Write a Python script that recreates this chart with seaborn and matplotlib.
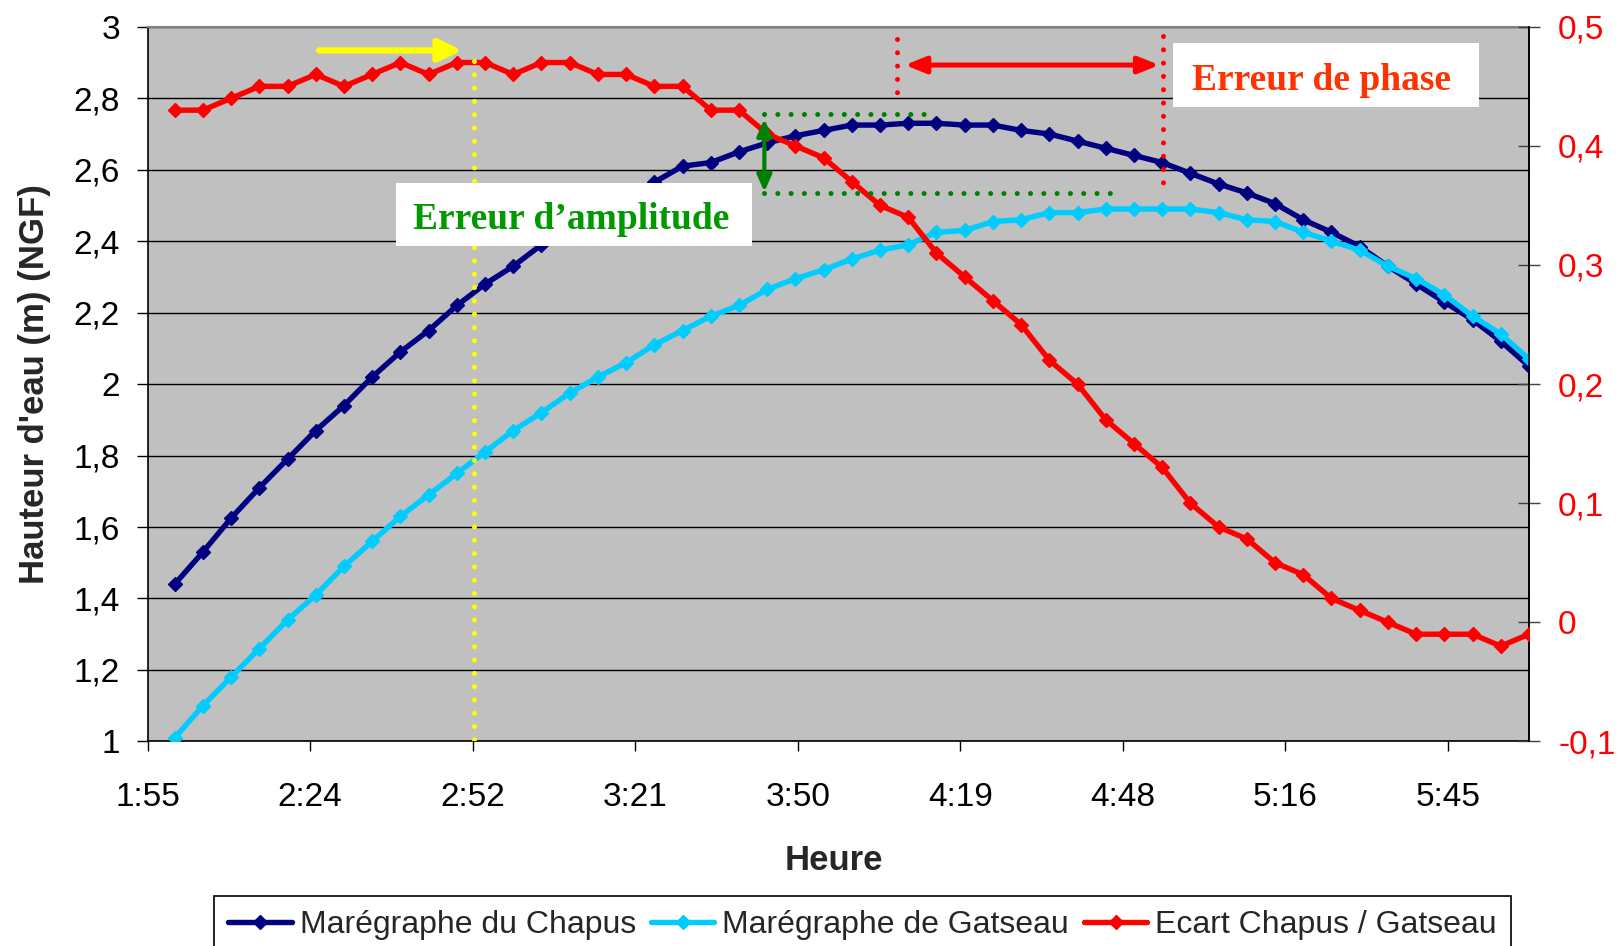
import numpy as np
import pandas as pd
import matplotlib
matplotlib.use("Agg")
import matplotlib.pyplot as plt
import matplotlib.patches as mpatches
from matplotlib.lines import Line2D
import seaborn as sns

# ---------------- data ----------------
times = ["2:00", "2:05", "2:10", "2:15", "2:20", "2:25", "2:30", "2:35", "2:40", "2:45",
         "2:50", "2:55", "3:00", "3:05", "3:10", "3:15", "3:20", "3:25", "3:30", "3:35",
         "3:40", "3:45", "3:50", "3:55", "4:00", "4:05", "4:10", "4:15", "4:20", "4:25",
         "4:30", "4:35", "4:40", "4:45", "4:50", "4:55", "5:00", "5:05", "5:10", "5:15",
         "5:20", "5:25", "5:30", "5:35", "5:40", "5:45", "5:50", "5:55", "6:00"]

chapus = [1.44, 1.53, 1.625, 1.71, 1.79, 1.87, 1.94, 2.02, 2.09, 2.15,
          2.22, 2.28, 2.33, 2.39, 2.44, 2.485, 2.525, 2.565, 2.61, 2.62,
          2.65, 2.675, 2.695, 2.71, 2.725, 2.725, 2.73, 2.73, 2.725, 2.725,
          2.71, 2.70, 2.68, 2.66, 2.64, 2.62, 2.59, 2.56, 2.535, 2.505,
          2.46, 2.425, 2.385, 2.33, 2.28, 2.23, 2.18, 2.12, 2.05]

gatseau = [1.01, 1.10, 1.18, 1.26, 1.34, 1.41, 1.49, 1.56, 1.63, 1.69,
           1.75, 1.81, 1.87, 1.92, 1.975, 2.02, 2.06, 2.11, 2.15, 2.19,
           2.22, 2.265, 2.295, 2.32, 2.35, 2.375, 2.39, 2.425, 2.43, 2.455,
           2.46, 2.48, 2.48, 2.49, 2.49, 2.49, 2.49, 2.48, 2.46, 2.455,
           2.425, 2.40, 2.375, 2.33, 2.295, 2.25, 2.19, 2.14, 2.07]

ecart = [0.43, 0.43, 0.44, 0.45, 0.45, 0.46, 0.45, 0.46, 0.47, 0.46,
         0.47, 0.47, 0.46, 0.47, 0.47, 0.46, 0.46, 0.45, 0.45, 0.43,
         0.43, 0.41, 0.40, 0.39, 0.37, 0.35, 0.34, 0.31, 0.29, 0.27,
         0.25, 0.22, 0.20, 0.17, 0.15, 0.13, 0.10, 0.08, 0.07, 0.05,
         0.04, 0.02, 0.01, 0.00, -0.01, -0.01, -0.01, -0.02, -0.01]

series_labels = ["Marégraphe du Chapus", "Marégraphe de Gatseau", "Ecart Chapus / Gatseau"]
x_ticks = [0.08, 0.10, 0.12, 0.14, 0.16, 0.18, 0.20, 0.22, 0.24]   # fractions of a day (Excel)
y_left_ticks = [1.0, 1.2, 1.4, 1.6, 1.8, 2.0, 2.2, 2.4, 2.6, 2.8, 3.0]
y_right_ticks = [-0.1, 0.0, 0.1, 0.2, 0.3, 0.4, 0.5]

# ---------------- style ----------------
NAVY = "#000080"
CYAN = "#00CCFF"
RED = "#FF0000"
GREEN = "#008000"
TXT_GREEN = "#009900"
TXT_RED = "#FF3300"
YELLOW = "#FFFF00"

sns.set_theme(style="white")
plt.rcParams["font.family"] = ["Liberation Sans", "DejaVu Sans"]


def to_day(s):
    h, m = s.split(":")
    return (int(h) * 60 + int(m)) / 1440.0


def fmt_time(v):
    m = int(v * 1440 + 1e-6)
    return f"{m // 60}:{m % 60:02d}"


def fmt_num(v):
    if abs(v) < 1e-9:
        return "0"
    s = f"{v:.1f}"
    if s.endswith(".0"):
        s = s[:-2]
    return s.replace(".", ",")


df = pd.DataFrame({
    "t": [to_day(s) for s in times],
    "chapus": chapus,
    "gatseau": gatseau,
    "ecart": ecart,
})

W, H = 1619, 946
fig = plt.figure(figsize=(W / 100, H / 100), dpi=100)
ax_l, ax_r, ax_t, ax_b = 147.6, 1529.0, 26.8, 741.4
ax = fig.add_axes([ax_l / W, 1 - ax_b / H, (ax_r - ax_l) / W, (ax_b - ax_t) / H])
ax.set_facecolor("#C0C0C0")

LW = 3.9
MS = 7.5
sns.lineplot(data=df, x="t", y="chapus", ax=ax, color=NAVY, lw=LW, marker="D",
             markersize=MS, markeredgecolor=NAVY, markeredgewidth=1, zorder=3)
sns.lineplot(data=df, x="t", y="gatseau", ax=ax, color=CYAN, lw=LW, marker="D",
             markersize=MS, markeredgecolor=CYAN, markeredgewidth=1, zorder=4)

ax.set_xlim(0.08, 0.25)
ax.set_ylim(1, 3)
ax.set_yticks(y_left_ticks)
ax.set_yticklabels([fmt_num(v) for v in y_left_ticks])
ax.set_xticks(x_ticks)
ax.set_xticklabels([fmt_time(v) for v in x_ticks])
ax.yaxis.grid(True, color="black", lw=1.0)
ax.xaxis.grid(False)
ax.set_axisbelow(True)

TICK_FS = 24
ax.tick_params(axis="y", direction="out", length=8, width=1, color="black",
               labelsize=TICK_FS, pad=12, labelcolor="black", left=True)
ax.tick_params(axis="x", direction="out", length=7.5, width=1, color="black",
               labelsize=TICK_FS, pad=21.5, labelcolor="black", bottom=True)

for side in ["left", "bottom", "right"]:
    ax.spines[side].set_color("black")
    ax.spines[side].set_linewidth(1.2)
ax.spines["top"].set_color("#808080")
ax.spines["top"].set_linewidth(1.5)

ax.set_xlabel("Heure", fontsize=25, fontweight="bold")
ax.xaxis.set_label_coords(0.497, -0.144)
ax.set_ylabel("Hauteur d'eau (m) (NGF)", fontsize=25, fontweight="bold")
ax.yaxis.set_label_coords(-0.070, 0.5)

ax2 = ax.twinx()
sns.lineplot(data=df, x="t", y="ecart", ax=ax2, color=RED, lw=LW, marker="D",
             markersize=MS, markeredgecolor=RED, markeredgewidth=1, zorder=3)
ax2.set_ylim(-0.1, 0.5)
ax2.set_yticks(y_right_ticks)
ax2.set_yticklabels([fmt_num(v) for v in y_right_ticks])
ax2.tick_params(axis="y", direction="inout", length=16, width=1, color="#404040",
                labelsize=TICK_FS, pad=13, labelcolor=RED, right=True)
ax2.set_ylabel("")
ax2.grid(False)
for side in ["left", "bottom", "top"]:
    ax2.spines[side].set_visible(False)
ax2.spines["right"].set_color("black")
ax2.spines["right"].set_linewidth(1.2)

# ---------------- annotations (left-axis data coordinates) ----------------
T = ax.transData
DOT_LW = 3.6
dot = (0, (0.01, 2.65))

# yellow
YEL_X = 0.1202
ax2.plot([YEL_X, YEL_X], [2.905, 1.0], transform=T, color=YELLOW, lw=DOT_LW,
         linestyle=dot, dash_capstyle="round", zorder=6)
ax2.annotate("", xy=(0.1187, 2.934), xytext=(0.1011, 2.934), xycoords=T, textcoords=T,
             arrowprops=dict(arrowstyle="-|>,head_length=0.7,head_width=0.34",
                             color=YELLOW, lw=4.5, shrinkA=0, shrinkB=0,
                             mutation_scale=20), zorder=7)

# red (phase)
for xx, y0, y1 in [(0.1722, 2.965, 2.79), (0.2049, 2.974, 2.54)]:
    ax2.plot([xx, xx], [y0, y1], transform=T, color=RED, lw=DOT_LW,
             linestyle=dot, dash_capstyle="round", zorder=6)
ax2.annotate("", xy=(0.1732, 2.893), xytext=(0.2045, 2.893), xycoords=T, textcoords=T,
             arrowprops=dict(arrowstyle="<|-|>,head_length=0.62,head_width=0.25",
                             color=RED, lw=3.6, shrinkA=0, shrinkB=0,
                             mutation_scale=20), zorder=7)

# green (amplitude)
ax2.plot([0.1559, 0.1768], [2.755, 2.755], transform=T, color=GREEN, lw=DOT_LW,
         linestyle=dot, dash_capstyle="round", zorder=6)
ax2.plot([0.1559, 0.1985], [2.535, 2.535], transform=T, color=GREEN, lw=DOT_LW,
         linestyle=dot, dash_capstyle="round", zorder=6)
ax2.annotate("", xy=(0.1559, 2.742), xytext=(0.1559, 2.538), xycoords=T, textcoords=T,
             arrowprops=dict(arrowstyle="<|-|>,head_length=0.5,head_width=0.22",
                             color=GREEN, lw=3.0, shrinkA=0, shrinkB=0,
                             mutation_scale=20), zorder=7)

# text boxes
ax2.add_patch(mpatches.Rectangle((0.11051, 2.3874), 0.15434 - 0.11051, 2.5634 - 2.3874,
                                 transform=T, facecolor="white", edgecolor="none", zorder=8))
ax2.text(0.13217, 2.461, "Erreur d’amplitude", transform=T, ha="center", va="center",
         fontsize=27, fontweight="bold", color=TXT_GREEN,
         family=["Liberation Serif", "DejaVu Serif"], zorder=9)

ax2.add_patch(mpatches.Rectangle((0.20619, 2.7744), 0.2438 - 0.20619, 2.9535 - 2.7744,
                                 transform=T, facecolor="white", edgecolor="none", zorder=8))
ax2.text(0.22445, 2.850, "Erreur de phase", transform=T, ha="center", va="center",
         fontsize=27, fontweight="bold", color=TXT_RED,
         family=["Liberation Serif", "DejaVu Serif"], zorder=9)

# ---------------- legend ----------------
if ax.get_legend() is not None:
    ax.get_legend().remove()
if ax2.get_legend() is not None:
    ax2.get_legend().remove()
handles = [Line2D([], [], color=c, lw=LW, marker="D", markersize=MS,
                  markeredgecolor=c) for c in (NAVY, CYAN, RED)]
leg = fig.legend(handles, series_labels, loc="upper left",
                 bbox_to_anchor=(213.7 / W, 1 - 896 / H), ncol=3, frameon=True,
                 fancybox=False, edgecolor="black", framealpha=1, fontsize=23,
                 handlelength=2.0, handletextpad=0.25, columnspacing=0.45,
                 borderpad=0.45, borderaxespad=0)
leg.get_frame().set_linewidth(1.2)

fig.savefig("out.png", dpi=100, facecolor="white")
